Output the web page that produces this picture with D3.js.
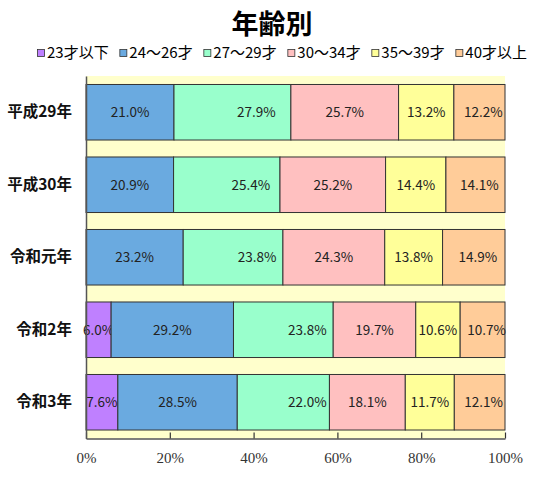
<!DOCTYPE html>
<html>
<head>
<meta charset="utf-8">
<script src="https://cdn.jsdelivr.net/npm/d3@7"></script>
<style>
  html, body { margin: 0; padding: 0; background: #fff; }
  svg { display: block; }
</style>
</head>
<body>
<div id="chart"></div>
<script>
// ── DATA ────────────────────────────────────────────────────
const years = ['平成29年', '平成30年', '令和元年', '令和2年', '令和3年']
const groups = ['23才以下', '24～26才', '27～29才', '30～34才', '35～39才', '40才以上']
const colors = ['#BF80FF', '#6AAAE0', '#99FFCC', '#FFC0C0', '#FFFF99', '#FFCC99']

const age23 = [0, 0, 0, 6.0, 7.6]
const age24 = [21.0, 20.9, 23.2, 29.2, 28.5]
const age27 = [27.9, 25.4, 23.8, 23.8, 22.0]
const age30 = [25.7, 25.2, 24.3, 19.7, 18.1]
const age35 = [13.2, 14.4, 13.8, 10.6, 11.7]
const age40 = [12.2, 14.1, 14.9, 10.7, 12.1]

const xTicks = [0, 20, 40, 60, 80, 100]

// ── LAYOUT ──────────────────────────────────────────────────
const width = 542
const height = 480
const margin = { top: 76, right: 37, bottom: 41.5, left: 86 }
const jp = '"Noto Sans CJK JP", "Noto Sans", sans-serif'

const series = [age23, age24, age27, age30, age35, age40]
const table = years.map((y, i) => {
  const row = { year: y }
  groups.forEach((g, j) => { row[g] = series[j][i] })
  return row
})

const stacked = d3.stack().keys(groups)(table)

const svg = d3.select('#chart')
  .append('svg')
  .attr('width', width)
  .attr('height', height)

const x = d3.scaleLinear()
  .domain([0, 100])
  .range([margin.left, width - margin.right])

const y = d3.scaleBand()
  .domain(years)
  .range([margin.top, height - margin.bottom])
  .paddingInner(0.234)
  .paddingOuter(0.117)

// plot background
svg.append('rect')
  .attr('x', x(0))
  .attr('y', margin.top)
  .attr('width', x(100) - x(0))
  .attr('height', height - margin.bottom - margin.top)
  .attr('fill', '#FFFFCC')

// ── TITLE ───────────────────────────────────────────────────
svg.append('text')
  .attr('x', 272)
  .attr('y', 34)
  .attr('text-anchor', 'middle')
  .attr('font-family', jp)
  .attr('font-weight', 'bold')
  .attr('font-size', 27)
  .attr('fill', '#000')
  .text('年齢別')

// ── LEGEND ──────────────────────────────────────────────────
// spread items between x=37 and x=527
const legend = svg.append('g').attr('transform', 'translate(0, 53)')
const items = legend.selectAll('g')
  .data(groups)
  .join('g')

items.append('rect')
  .attr('x', 0.5)
  .attr('y', -3.5)
  .attr('width', 7)
  .attr('height', 7)
  .attr('fill', (d, i) => colors[i])
  .attr('stroke', '#333')
  .attr('stroke-width', 0.8)

items.append('text')
  .attr('x', 10)
  .attr('y', 0)
  .attr('dy', '0.36em')
  .attr('font-family', jp)
  .attr('font-size', 15)
  .attr('fill', '#000')
  .text(d => d)

const textLens = items.select('text').nodes().map(n => n.getComputedTextLength())
const gap = (527 - 37 - d3.sum(textLens) - groups.length * 10) / (groups.length - 1)
let lx = 37
items.attr('transform', (d, i) => {
  const t = `translate(${lx}, 0)`
  lx += 10 + textLens[i] + gap
  return t
})

// ── BARS ────────────────────────────────────────────────────
const layers = svg.append('g')
  .selectAll('g')
  .data(stacked)
  .join('g')
  .attr('fill', (d, i) => colors[i])

layers.selectAll('rect')
  .data(d => d.filter(s => s[1] - s[0] > 0))
  .join('rect')
  .attr('x', d => x(d[0]))
  .attr('y', d => y(d.data.year))
  .attr('width', d => x(d[1]) - x(d[0]))
  .attr('height', y.bandwidth())
  .attr('stroke', '#333')
  .attr('stroke-width', 1)

// label nudges, as Excel placed them
const labelDx = { '23才以下': 0, '24～26才': 0, '27～29才': 24, '30～34才': 0, '35～39才': 0, '40才以上': 4 }

layers.each(function (layer) {
  d3.select(this).selectAll('text')
    .data(layer.filter(s => s[1] - s[0] > 0))
    .join('text')
    .attr('x', d => (x(d[0]) + x(d[1])) / 2 + labelDx[layer.key])
    .attr('y', d => y(d.data.year) + y.bandwidth() / 2)
    .attr('dy', '0.36em')
    .attr('text-anchor', 'middle')
    .attr('font-family', jp)
    .attr('font-size', 13.5)
    .attr('fill', '#222')
    .text(d => `${(d[1] - d[0]).toFixed(1)}%`)
})

// ── AXES ────────────────────────────────────────────────────
const xAxis = svg.append('g')
  .attr('transform', `translate(0, ${height - margin.bottom})`)
  .call(d3.axisBottom(x)
    .tickValues(xTicks)
    .tickSizeInner(-6)
    .tickSizeOuter(0)
    .tickPadding(14)
    .tickFormat(d => `${d}%`))

xAxis.select('.domain').attr('stroke', '#555').attr('stroke-width', 1.5)
xAxis.selectAll('.tick line').attr('stroke', '#333').attr('stroke-width', 1.2)
xAxis.selectAll('.tick text')
  .attr('font-family', '"Liberation Serif", "Times New Roman", serif')
  .attr('font-size', 15)
  .attr('fill', '#333')

const yAxis = svg.append('g')
  .attr('transform', `translate(${margin.left}, 0)`)
  .call(d3.axisLeft(y).tickSize(0).tickPadding(14))

yAxis.select('.domain').attr('stroke', '#555').attr('stroke-width', 1.5)
yAxis.selectAll('.tick text')
  .attr('font-family', jp)
  .attr('font-weight', 'bold')
  .attr('font-size', 15.5)
  .attr('fill', '#111')
</script>
</body>
</html>
